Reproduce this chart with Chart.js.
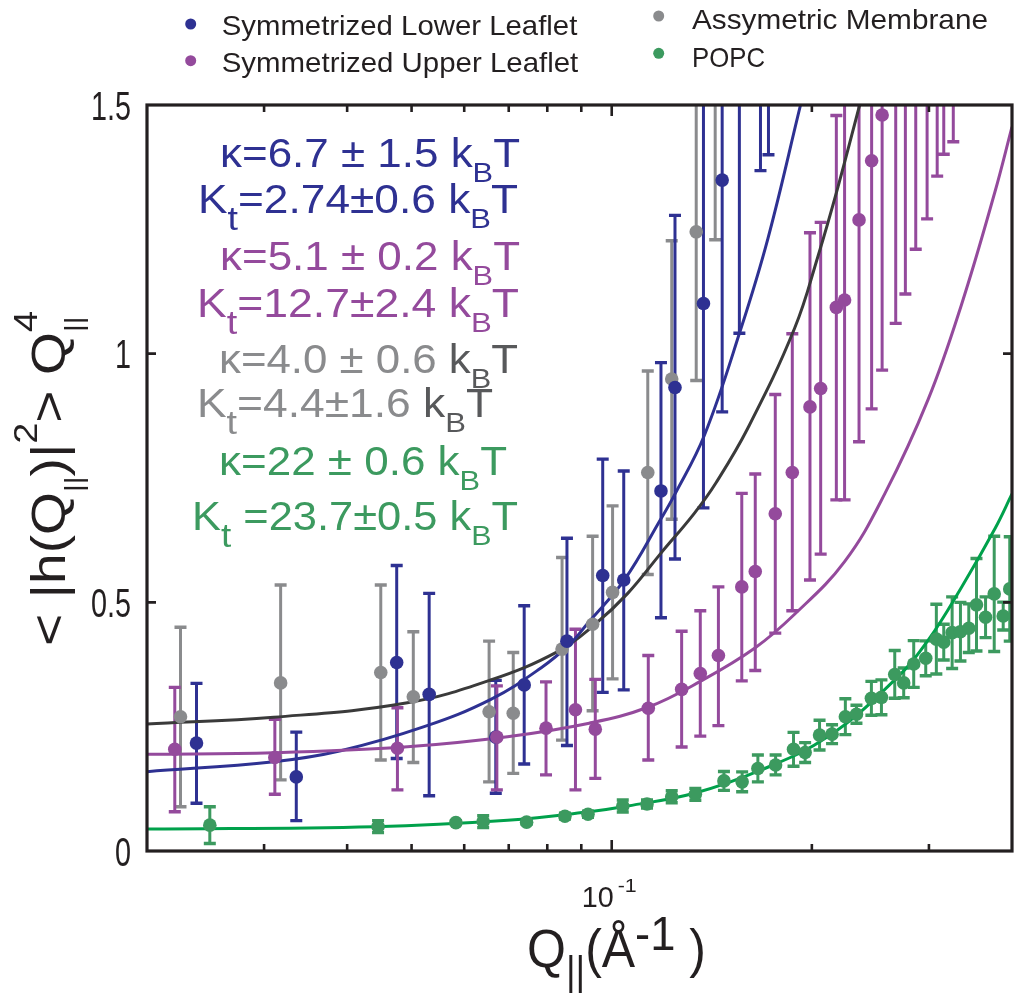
<!DOCTYPE html>
<html>
<head>
<meta charset="utf-8">
<script src="https://cdn.jsdelivr.net/npm/chart.js@4.4.1/dist/chart.umd.min.js"></script>
<style>
html,body{margin:0;padding:0;background:#ffffff;}
#wrap{width:1028px;height:994px;}
</style>
</head>
<body>
<div id="wrap"><canvas id="c" width="1028" height="994"></canvas></div>
<script>
// ---------------- data ----------------
// Assymetric Membrane (gray)
const grayQ  = [0.02246,0.03177,0.04494,0.0503,0.0654,0.0711,0.0842,0.0936,0.1003,0.1133,0.1231,0.134,0.1431];
const grayV  = [0.270,0.338,0.359,0.310,0.280,0.277,0.406,0.456,0.520,0.761,0.949,1.245,1.60];
const grayLo = [0.089,0.143,0.183,0.178,0.139,0.156,0.223,0.282,0.346,0.556,0.667,0.946,1.229];
const grayHi = [0.450,0.535,0.535,0.441,0.422,0.399,0.590,0.633,0.694,0.965,1.227,1.545,1.97];

// Symmetrized Lower Leaflet (blue)
const blueQ  = [0.02374,0.03354,0.04749,0.05314,0.06693,0.07385,0.08564,0.09693,0.10425,0.1186,0.1245,0.1374,0.1466,0.1556,0.1674,0.1721];
const blueV  = [0.217,0.149,0.379,0.315,0.229,0.334,0.422,0.554,0.545,0.724,0.932,1.101,1.349,1.60,1.95,1.90];
const blueLo = [0.096,0.061,0.186,0.111,0.116,0.175,0.212,0.319,0.324,0.469,0.587,0.690,0.883,1.041,1.368,1.40];
const blueHi = [0.337,0.239,0.574,0.518,0.343,0.493,0.629,0.788,0.764,0.982,1.278,1.52,1.82,2.16,2.53,2.40];

// Symmetrized Upper Leaflet (purple)
const purpleQ  = [0.02202,0.03114,0.04761,0.06718,0.07965,0.0882,0.09447,0.1135,0.1274,0.1359,0.1447,0.1569,0.1644,0.1762,0.1869,0.1987,0.2062,0.2177,0.224,0.2355,0.246,0.2551,0.2674,0.2765,0.2866,0.2981,0.3087,0.3158,0.3264];
const purpleV  = [0.2045,0.188,0.2065,0.229,0.247,0.284,0.245,0.287,0.325,0.357,0.393,0.531,0.562,0.678,0.761,0.893,0.930,1.093,1.108,1.269,1.388,1.480,1.60,1.70,1.80,1.90,2.00,2.05,2.10];
const purpleLo = [0.079,0.114,0.123,0.123,0.153,0.123,0.146,0.183,0.209,0.231,0.252,0.342,0.363,0.438,0.483,0.545,0.597,0.706,0.706,0.823,0.889,0.967,1.061,1.120,1.210,1.271,1.357,1.401,1.426];
const purpleHi = [0.329,0.265,0.288,0.332,0.340,0.446,0.345,0.393,0.442,0.483,0.531,0.719,0.758,0.918,1.040,1.243,1.264,1.479,1.51,1.715,1.89,1.99,2.14,2.28,2.39,2.53,2.64,2.70,2.77];

// POPC (green)
const greenQ   = [0.02486,0.04452,0.05829,0.06407,0.07447,0.08504,0.09211,0.1039,0.1130,0.1231,0.1336,0.1475,0.1571,0.1659,0.1764,0.1877,0.1954,0.2054,0.2145,0.2246,0.2334,0.2458,0.2545,0.2665,0.2749,0.2846,0.2967,0.3078,0.3158,0.3251,0.3346,0.3444,0.3537,0.365,0.3761,0.388,0.3969];
const greenV   = [0.052,0.049,0.057,0.059,0.058,0.070,0.074,0.0905,0.0945,0.109,0.114,0.141,0.139,0.166,0.173,0.2045,0.198,0.233,0.235,0.270,0.275,0.307,0.309,0.355,0.338,0.376,0.3875,0.426,0.420,0.439,0.441,0.448,0.495,0.470,0.517,0.4725,0.527];
const greenErr = [0.037,0.012,0.004,0.012,0.004,0.006,0.006,0.012,0.008,0.012,0.012,0.019,0.02,0.027,0.02,0.034,0.02,0.03,0.019,0.036,0.018,0.034,0.035,0.048,0.03,0.047,0.035,0.07,0.036,0.072,0.059,0.049,0.093,0.041,0.116,0.028,0.105];

// fitted curves
const blueFitQ   = [0.02,0.03103,0.03912,0.05222,0.0658,0.07825,0.08681,0.09203,0.10447,0.1186,0.1243,0.1379,0.1565,0.1718,0.1923];
const blueFitV   = [0.1595,0.1796,0.2017,0.250,0.305,0.368,0.418,0.458,0.545,0.668,0.716,0.8365,1.051,1.232,1.5];
const grayFitQ   = [0.02,0.03103,0.04929,0.0658,0.08292,0.09414,0.1057,0.1186,0.1331,0.1436,0.1602,0.1884,0.2043,0.2189,0.236];
const grayFitV   = [0.2554,0.269,0.298,0.344,0.401,0.4545,0.518,0.599,0.679,0.741,0.850,1.051,1.196,1.335,1.5];
const purpleFitQ = [0.02,0.03103,0.04929,0.0697,0.0925,0.1133,0.1363,0.164,0.1884,0.224,0.2574,0.2992,0.3357,0.377,0.4];
const purpleFitV = [0.1944,0.1977,0.2097,0.2298,0.257,0.289,0.342,0.4076,0.476,0.582,0.718,0.908,1.098,1.325,1.456];
const greenFitQ  = [0.02,0.04391,0.0697,0.0925,0.1057,0.1331,0.1678,0.2115,0.2665,0.2992,0.3357,0.377,0.4];
const greenFitV  = [0.044,0.049,0.062,0.079,0.0905,0.116,0.163,0.230,0.344,0.424,0.530,0.648,0.718];

// axes
const xMin = 0.02, xMax = 0.4, yMin = 0, yMax = 1.5;
const xTickValues = [0.03,0.04,0.05,0.06,0.07,0.08,0.09,0.1,0.2,0.3];
const xMajorTick = 0.1;
const yTickValues = [0, 0.5, 1, 1.5];
const yTickLabels = ['0', '0.5', '1', '1.5'];

const legendLabels = ['Symmetrized Lower Leaflet', 'Symmetrized Upper Leaflet', 'Assymetric Membrane', 'POPC'];

// ---------------- styles ----------------
const COL = {
  blue: '#2e3192', purple: '#944a9c', gray: '#8a8b8d', grayDark: '#58595b',
  green: '#3c9a5f', greenLine: '#00a14b', black: '#3a3a3a', axis: '#231f20', text: '#231f20'
};
const FAM = "'Liberation Sans', Arial, sans-serif";

const zip = (q, v) => q.map((x, i) => ({x: x, y: v[i]}));

function pointSet(label, q, v, color, order, extra) {
  return Object.assign({
    label: label, data: zip(q, v), showLine: false,
    backgroundColor: color, borderColor: color, borderWidth: 0,
    pointRadius: 6.8, pointHoverRadius: 6.8, order: order, clip: 0, errColor: color
  }, extra);
}
function fitSet(q, v, color, order) {
  return {
    label: '', data: zip(q, v), showLine: true, borderColor: color, borderWidth: 3,
    pointRadius: 0, pointHoverRadius: 0, fill: false, tension: 0.4,
    order: order, clip: 0
  };
}

// ---------------- text helpers ----------------
function drawFit(ctx, str, x, base, size, width, color) {
  ctx.font = size + 'px ' + FAM;
  const w = ctx.measureText(str).width;
  ctx.save();
  ctx.translate(x, base);
  ctx.scale(width ? width / w : 1, 1);
  ctx.fillStyle = color;
  ctx.textAlign = 'left';
  ctx.textBaseline = 'alphabetic';
  ctx.fillText(str, 0, 0);
  ctx.restore();
}
function drawRich(ctx, segs, x0, x1, base, color) {
  let total = 0;
  const widths = segs.map(s => {
    let w = 0;
    (s.stack || [s]).forEach(p => { ctx.font = p.size + 'px ' + FAM; w = Math.max(w, ctx.measureText(p.t).width); });
    total += w;
    return w;
  });
  const sc = (x1 - x0) / total;
  ctx.save();
  ctx.translate(x0, base);
  ctx.scale(sc, 1);
  ctx.textAlign = 'left';
  ctx.textBaseline = 'alphabetic';
  let cx = 0;
  segs.forEach((s, i) => {
    (s.stack || [s]).forEach(p => {
      ctx.font = p.size + 'px ' + FAM;
      ctx.fillStyle = p.color || s.color || color;
      ctx.fillText(p.t, cx, p.dy || 0);
    });
    cx += widths[i];
  });
  ctx.restore();
}

// ---------------- plugins ----------------
const errorBars = {
  id: 'errorBars',
  beforeDatasetsDraw(chart) {
    const {ctx, chartArea: a, scales: {x, y}} = chart;
    ctx.save();
    ctx.beginPath();
    ctx.rect(a.left, a.top, a.right - a.left, a.bottom - a.top);
    ctx.clip();
    const sets = chart.data.datasets.filter(d => d.errLo || d.errHalf)
      .sort((p, q) => q.order - p.order);
    sets.forEach(ds => {
      ctx.strokeStyle = ds.errColor;
      ds.data.forEach((pt, i) => {
        const lo = ds.errHalf ? pt.y - ds.errHalf[i] : ds.errLo[i];
        const hi = ds.errHalf ? pt.y + ds.errHalf[i] : ds.errHi[i];
        const px = x.getPixelForValue(pt.x);
        const pl = y.getPixelForValue(lo), ph = y.getPixelForValue(hi);
        ctx.lineWidth = 3;
        ctx.beginPath(); ctx.moveTo(px, pl); ctx.lineTo(px, ph); ctx.stroke();
        ctx.lineWidth = 3.4;
        ctx.beginPath();
        ctx.moveTo(px - 6, pl); ctx.lineTo(px + 6, pl);
        ctx.moveTo(px - 6, ph); ctx.lineTo(px + 6, ph);
        ctx.stroke();
      });
    });
    ctx.restore();
  }
};

const decor = {
  id: 'decor',
  afterDraw(chart) {
    const {ctx, chartArea: a, scales: {x, y}} = chart;
    ctx.save();
    // frame
    ctx.strokeStyle = COL.axis;
    ctx.lineWidth = 3.2;
    ctx.strokeRect(a.left, a.top, a.right - a.left, a.bottom - a.top);
    // x ticks (inward, top and bottom)
    ctx.lineWidth = 2.6;
    xTickValues.forEach(v => {
      const px = x.getPixelForValue(v);
      const len = v === xMajorTick ? 11 : 7;
      ctx.beginPath();
      ctx.moveTo(px, a.bottom); ctx.lineTo(px, a.bottom - len);
      ctx.moveTo(px, a.top); ctx.lineTo(px, a.top + len);
      ctx.stroke();
    });
    // y ticks (inward, left and right)
    yTickValues.forEach(v => {
      if (v === yMin || v === yMax) return;
      const py = y.getPixelForValue(v);
      ctx.beginPath();
      ctx.moveTo(a.left, py); ctx.lineTo(a.left + 9, py);
      ctx.moveTo(a.right, py); ctx.lineTo(a.right - 9, py);
      ctx.stroke();
    });
    // y tick labels
    yTickValues.forEach((v, i) => {
      const py = y.getPixelForValue(v);
      ctx.font = '40px ' + FAM;
      const w = ctx.measureText(yTickLabels[i]).width * 0.72;
      drawFit(ctx, yTickLabels[i], 131 - w, py + 14.5, 40, w, COL.text);
    });
    // x tick label 10^-1
    const p1 = x.getPixelForValue(xMajorTick);
    drawFit(ctx, '10', p1 - 30, 906.7, 30, 32, COL.text);
    drawFit(ctx, '-1', p1 + 6, 891.7, 19, 19, COL.text);
    // x title
    drawRich(ctx, [
      {t: 'Q', size: 54},
      {t: '||', size: 40, dy: 18},
      {t: '(', size: 54},
      {t: 'Å', size: 54},
      {t: '-1', size: 49, dy: -17},
      {t: ' )', size: 54}
    ], 527, 706, 967, COL.text);
    // y title (rotated)
    ctx.save();
    ctx.translate(65, 646);
    ctx.rotate(-Math.PI / 2);
    drawRich(ctx, [
      {t: '<', size: 48},
      {t: ' |h(Q', size: 48},
      {t: '||', size: 26, dy: 18},
      {t: ')|', size: 48},
      {t: '2', size: 33, dy: -28},
      {t: '> Q', size: 48},
      {stack: [{t: '4', size: 33, dy: -28}, {t: '||', size: 26, dy: 18}]}
    ], 0, 335, 0, COL.text);
    ctx.restore();

    // annotations
    const kb = (c) => [{t: 'k', size: 40, color: c}, {t: 'B', size: 28, dy: 15, color: c}, {t: 'T', size: 40, color: c}];
    const lines = [
      {segs: [{t: 'κ=6.7 ± 1.5 ', size: 40}].concat(kb(COL.blue)), c: COL.blue, b: 166.7, x0: 220, x1: 520},
      {segs: [{t: 'K', size: 40}, {t: 't', size: 34, dy: 17}, {t: '=2.74±0.6 ', size: 40}].concat(kb(COL.blue)), c: COL.blue, b: 213.3, x0: 198, x1: 518},
      {segs: [{t: 'κ=5.1 ± 0.2 ', size: 40}].concat(kb(COL.purple)), c: COL.purple, b: 270, x0: 220, x1: 520},
      {segs: [{t: 'K', size: 40}, {t: 't', size: 34, dy: 17}, {t: '=12.7±2.4 ', size: 40}].concat(kb(COL.purple)), c: COL.purple, b: 316.7, x0: 197, x1: 519},
      {segs: [{t: 'κ=4.0 ± 0.6 ', size: 40}].concat(kb(COL.grayDark)), c: COL.gray, b: 373.3, x0: 219, x1: 518},
      {segs: [{t: 'K', size: 40}, {t: 't', size: 34, dy: 17}, {t: '=4.4±1.6 ', size: 40}].concat(kb(COL.grayDark)), c: COL.gray, b: 416.7, x0: 197, x1: 493},
      {segs: [{t: 'κ=22 ± 0.6 ', size: 40}].concat(kb(COL.green)), c: COL.green, b: 475, x0: 219, x1: 507},
      {segs: [{t: 'K', size: 40}, {t: 't', size: 34, dy: 17}, {t: ' =23.7±0.5 ', size: 40}].concat(kb(COL.green)), c: COL.green, b: 530, x0: 192, x1: 518}
    ];
    lines.forEach(l => drawRich(ctx, l.segs, l.x0, l.x1, l.b, l.c));

    // legend
    const leg = [
      {c: COL.blue,   dx: 190.7, dy: 24,   tx0: 221.7, tx1: 577.3, b: 35},
      {c: COL.purple, dx: 190.7, dy: 60.7, tx0: 221.7, tx1: 578.3, b: 71.7},
      {c: COL.gray,   dx: 658.7, dy: 16,   tx0: 692,   tx1: 988,   b: 29.3},
      {c: COL.green,  dx: 658.7, dy: 53.3, tx0: 692,   tx1: 765,   b: 66.7}
    ];
    leg.forEach((l, i) => {
      ctx.fillStyle = l.c;
      ctx.beginPath(); ctx.arc(l.dx, l.dy, 5.5, 0, Math.PI * 2); ctx.fill();
      drawFit(ctx, legendLabels[i], l.tx0, l.b, 28, l.tx1 - l.tx0, COL.text);
    });
    ctx.restore();
  }
};

// ---------------- chart ----------------
const chart = new Chart(document.getElementById('c'), {
  type: 'scatter',
  data: {
    datasets: [
      pointSet(legendLabels[3], greenQ, greenV, COL.green, 1, {errHalf: greenErr, pointRadius: 6.8, pointHoverRadius: 6.8}),
      pointSet(legendLabels[1], purpleQ, purpleV, COL.purple, 2, {errLo: purpleLo, errHi: purpleHi}),
      pointSet(legendLabels[0], blueQ, blueV, COL.blue, 3, {errLo: blueLo, errHi: blueHi}),
      pointSet(legendLabels[2], grayQ, grayV, COL.gray, 4, {errLo: grayLo, errHi: grayHi}),
      fitSet(greenFitQ, greenFitV, COL.greenLine, 7),
      fitSet(purpleFitQ, purpleFitV, COL.purple, 8),
      fitSet(blueFitQ, blueFitV, COL.blue, 9),
      fitSet(grayFitQ, grayFitV, COL.black, 10)
    ]
  },
  options: {
    responsive: false,
    animation: false,
    devicePixelRatio: 1,
    layout: {padding: {left: 147, right: 16, top: 105, bottom: 143}},
    scales: {
      x: {type: 'logarithmic', min: xMin, max: xMax, display: false},
      y: {type: 'linear', min: yMin, max: yMax, display: false}
    },
    plugins: {legend: {display: false}, tooltip: {enabled: false}, title: {display: false}},
    events: []
  },
  plugins: [errorBars, decor]
});
</script>
</body>
</html>
